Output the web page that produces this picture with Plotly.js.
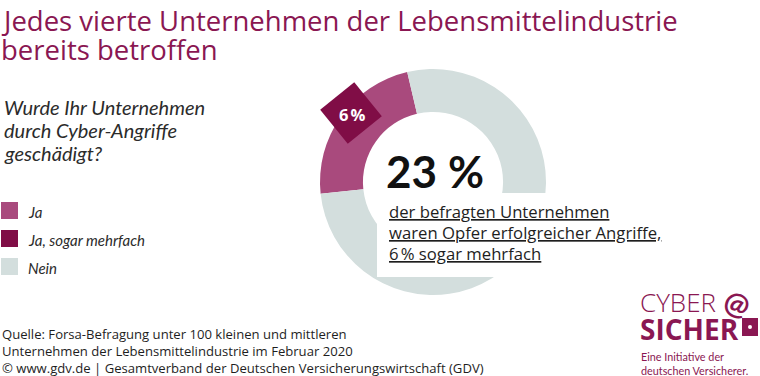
<!DOCTYPE html>
<html>
<head>
<meta charset="utf-8">
<script src="https://cdn.plot.ly/plotly-3.0.1.min.js"></script>
<style>
html,body{margin:0;padding:0;background:#fff;}
#chart{width:760px;height:376px;}
</style>
</head>
<body>
<div id="chart"></div>
<script>
// ---- data ----
const categories = ["Ja", "Ja, sogar mehrfach", "Nein"];
const shares = [23, 6, 77];          // Ja (gesamt), davon mehrfach, Nein
const catColors = ["#a94a7d", "#800d46", "#d3dedd"];
const titleLines = ["Jedes vierte Unternehmen der Lebensmittelindustrie", "bereits betroffen"];
const questionLines = ["Wurde Ihr Unternehmen", "durch Cyber-Angriffe", "geschädigt?"];
const bigValue = "23\u202F%";
const tagValue = "6\u202F%";
const noteLines = ["der befragten Unternehmen", "waren Opfer erfolgreicher Angriffe,", "6\u202F% sogar mehrfach"];
const sourceLines = ["Quelle: Forsa-Befragung unter 100 kleinen und mittleren",
  "Unternehmen der Lebensmittelindustrie im Februar 2020",
  "© www.gdv.de | Gesamtverband der Deutschen Versicherungswirtschaft (GDV)"];
const logoLines = ["CYBER", "SICHER"];
const taglineLines = ["Eine Initiative der", "deutschen Versicherer."];

const W = 760, H = 376;
const px = x => x / W;
const py = y => 1 - y / H;
const LATO = "Lato, 'Open Sans', sans-serif";
const OPEN = "'Open Sans', 'Noto Sans', sans-serif";
const MAG = "#8a1752";

// pie geometry (pixels)
const cx = 433, cy = 182, R = 113;

const pie = {
  type: "pie",
  labels: [categories[0], categories[2]],
  values: [shares[0], shares[2]],
  marker: {colors: [catColors[0], catColors[2]], line: {width: 0}},
  hole: 0.62,
  sort: false,
  direction: "clockwise",
  rotation: 264,
  textinfo: "none",
  hoverinfo: "label+value",
  showlegend: false,
  domain: {x: [px(cx - R), px(cx + R)], y: [py(cy + R), py(cy - R)]}
};

const shapes = [];
const annotations = [];

// white panel behind explanatory text
shapes.push({type: "rect", xref: "paper", yref: "paper", layer: "above",
  x0: px(377), x1: px(680), y0: py(277), y1: py(193),
  fillcolor: "#ffffff", line: {width: 0}});

// rotated tag for "mehrfach"
(function(){
  const tcx = 351, tcy = 113, r = 31, rot = 6;
  let d = "";
  for (let k = 0; k < 4; k++) {
    const a = (rot + 90 * k) * Math.PI / 180;
    const x = tcx + r * Math.sin(a), y = tcy - r * Math.cos(a);
    d += (k === 0 ? "M" : "L") + px(x).toFixed(5) + "," + py(y).toFixed(5) + " ";
  }
  d += "Z";
  shapes.push({type: "path", xref: "paper", yref: "paper", layer: "above", path: d,
    fillcolor: catColors[1], line: {width: 0}});
  annotations.push({xref: "paper", yref: "paper", x: px(tcx + 1), y: py(tcy + 1),
    xanchor: "center", yanchor: "middle", showarrow: false,
    text: "<b>" + tagValue + "</b>", font: {family: OPEN, size: 16.5, color: "#ffffff"}});
})();

// title
titleLines.forEach((t, i) => annotations.push({xref: "paper", yref: "paper",
  x: px(-1), y: py(0 + i * 29), xanchor: "left", yanchor: "top", showarrow: false,
  text: t, font: {family: OPEN, size: 27.5, color: MAG}}));

// question
questionLines.forEach((t, i) => annotations.push({xref: "paper", yref: "paper",
  x: px(2), y: py(93 + i * 23), xanchor: "left", yanchor: "top", showarrow: false,
  text: "<i>" + t + "</i>", font: {family: LATO, size: 20, color: "#2b2b2b"}}));

// legend
categories.forEach((c, i) => {
  const y0 = 202 + i * 28;
  shapes.push({type: "rect", xref: "paper", yref: "paper", x0: px(1), x1: px(18),
    y0: py(y0 + 17), y1: py(y0), fillcolor: catColors[i], line: {width: 0}});
  annotations.push({xref: "paper", yref: "paper", x: px(26), y: py(y0 + 10),
    xanchor: "left", yanchor: "middle", showarrow: false,
    text: "<i>" + c + "</i>", font: {family: LATO, size: 15, color: "#2b2b2b"}});
});

// big value
annotations.push({xref: "paper", yref: "paper", x: px(384), y: py(171),
  xanchor: "left", yanchor: "middle", showarrow: false,
  text: "<b>" + bigValue + "</b>", font: {family: LATO, size: 44, color: "#111111"}});

// note lines (underlined)
noteLines.forEach((t, i) => annotations.push({xref: "paper", yref: "paper",
  x: px(387), y: py(198 + i * 21), xanchor: "left", yanchor: "top", showarrow: false,
  text: "<u>" + t + "</u>", font: {family: OPEN, size: 16.7, color: "#1e1e1e"}}));

// source (one block)
annotations.push({xref: "paper", yref: "paper",
  x: px(0), y: py(323), xanchor: "left", yanchor: "top", align: "left", showarrow: false,
  text: sourceLines.join("<br>"), font: {family: OPEN, size: 13.1, color: "#1e1e1e"}});

// logo
annotations.push({xref: "paper", yref: "paper", x: px(638), y: py(302), xanchor: "left", yanchor: "middle",
  showarrow: false, text: logoLines[0], font: {family: OPEN, size: 26, color: MAG, weight: 300}});
annotations.push({xref: "paper", yref: "paper", x: px(638), y: py(329), xanchor: "left", yanchor: "middle",
  showarrow: false, text: "<b>" + logoLines[1] + "</b>", font: {family: OPEN, size: 28, color: MAG}});
annotations.push({xref: "paper", yref: "paper", x: px(737), y: py(302), xanchor: "center", yanchor: "middle",
  showarrow: false, text: "<b>@</b>", font: {family: LATO, size: 30, color: MAG}, textangle: 20});
shapes.push({type: "rect", xref: "paper", yref: "paper", layer: "above",
  x0: px(742), x1: px(758), y0: py(336), y1: py(318), fillcolor: MAG, line: {width: 0}});
shapes.push({type: "circle", xref: "paper", yref: "paper", layer: "above",
  x0: px(748), x1: px(752), y0: py(329), y1: py(325), fillcolor: "#ffffff", line: {width: 0}});
taglineLines.forEach((t, i) => annotations.push({
  xref: "paper", yref: "paper", x: px(639), y: py(348 + i * 13.5), xanchor: "left", yanchor: "top",
  showarrow: false, text: t, font: {family: LATO, size: 10.8, color: MAG}}));

const layout = {
  width: W, height: H,
  margin: {l: 0, r: 0, t: 0, b: 0},
  paper_bgcolor: "#ffffff",
  showlegend: false,
  shapes: shapes,
  annotations: annotations
};

Plotly.newPlot("chart", [pie], layout, {displayModeBar: false, staticPlot: true});
</script>
</body>
</html>
